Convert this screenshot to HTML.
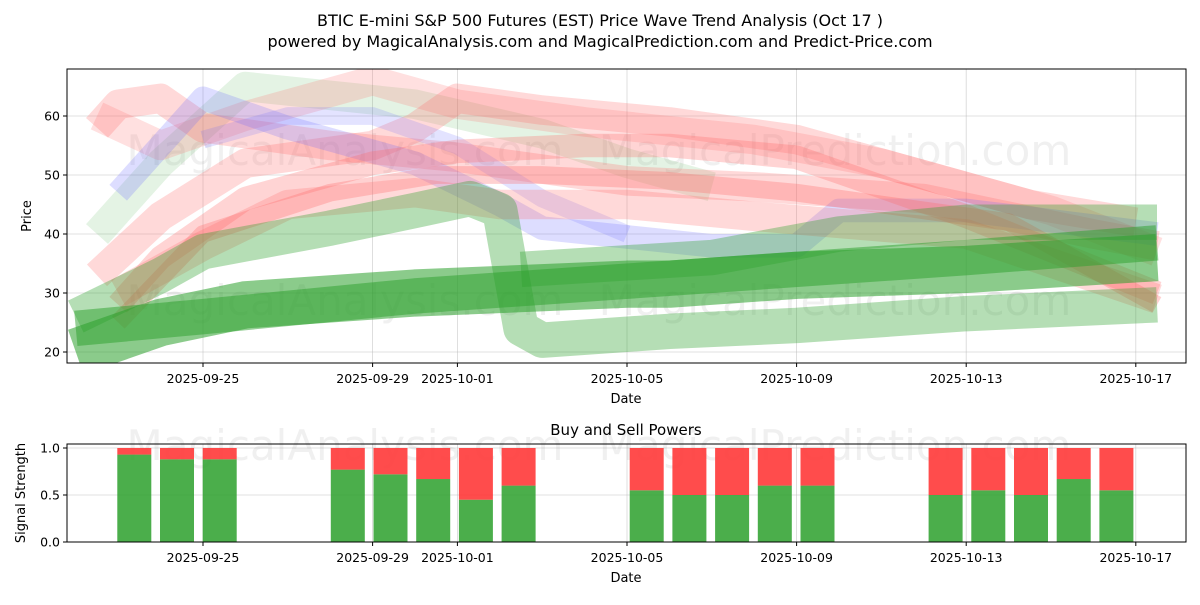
<!DOCTYPE html>
<html><head><meta charset="utf-8">
<style>
body{margin:0;background:#fff;font-family:"Liberation Sans","DejaVu Sans",sans-serif;}
svg text{font-family:"DejaVu Sans","Liberation Sans",sans-serif;}
</style></head>
<body>
<svg id="chart" width="1200" height="600" viewBox="0 0 1200 600" xmlns="http://www.w3.org/2000/svg">
<rect width="1200" height="600" fill="#fff"/>
<text x="600" y="26" text-anchor="middle" font-size="16">BTIC E-mini S&amp;P 500 Futures (EST) Price Wave Trend Analysis (Oct 17 )</text>
<text x="600" y="47" text-anchor="middle" font-size="16">powered by MagicalAnalysis.com and MagicalPrediction.com and Predict-Price.com</text>
<defs>
<clipPath id="topclip"><rect x="67" y="69" width="1119" height="294"/></clipPath>
</defs>
<g id="topGrid"></g>
<g id="bands" clip-path="url(#topclip)"></g>
<g id="topAxis"></g>
<g id="botGrid"></g>
<g id="bars"></g>
<g id="botAxis"></g>
</svg>
<script>
// ---- data ----
const tickDates = ["2025-09-25","2025-09-29","2025-10-01","2025-10-05","2025-10-09","2025-10-13","2025-10-17"];
const tickDays = [0,4,6,10,14,18,22];
const priceTicks = [20,30,40,50,60];
const strengthTicks = [0.0,0.5,1.0];
const g1Days=[-3,-1,1,5,10,11,14,18,22.5], g1Price=[20,25,28,30,31.5,31.5,33,34,36];
const g2Days=[-3,0,5,10,14,18,22.5], g2Price=[24,26,29.5,32,34,36,38.5];
const g3Days=[-3,-1,0,3,5,6.3,7,7.5,8,11,14,18,22.5], g3Price=[26,33,37,41,44,46,44,24,22,23.5,24.5,26.5,28];
const g4Days=[7.5,12,15,18,22.5], g4Price=[34,36,40,42,42];
const g5Days=[-2.5,-1,1,5,8,10,12], g5Price=[40,52,65,62,57,52,48];
const r1Days=[-2.5,-2,-1,0,3,6,10,13,17,21,22.5], r1Price=[58,62,63,58,55,53,49,48,46,40,38];
const r2Days=[-2.5,-1,1,4,5,6,8,11,14,17,19.5,22], r2Price=[33,43,52,55,58,63,61,59,56,50,45,42];
const r3Days=[-2,-1,1,4,6,9,11,14,18,22.5], r3Price=[28,36,46,52,54,55,55,53,43,30];
const r4Days=[-2,0,3,5.5,8,11,14,16,19,22.5], r4Price=[25,40,47,50,50,49,47,45,42,28];
const r5Days=[-2.5,-1,1,4,6,9,13,16,20,22.5], r5Price=[60,55,60,66,62,59,56,52,44,37];
const r6Days=[-2,0,2,5,7,10,13,18,22.5], r6Price=[30,38,45,47,45,45,43,40,29];
const b1Days=[-2,0,2,5,7,8,12,14,15,18,22.5], b1Price=[47,63,58,52,45,41,38,38,44,44,40];
const b2Days=[0,2,4,6,8,10], b2Price=[56,60,60,55,46,40];
const barDays=[-1,0,1,4,5,6,7,8,11,12,13,14,15,18,19,20,21,22];
const buyPower=[0.93,0.88,0.88,0.77,0.72,0.67,0.45,0.6,0.55,0.5,0.5,0.6,0.6,0.5,0.55,0.5,0.67,0.55];

// ---- scales ----
const X0=203, DAY=42.4;
const xs=d=>X0+d*DAY;
const xBar=d=>177+d*42.7;
const yTop=p=>352-(p-20)*5.9;
const yBot=v=>542-v*94;
const NS="http://www.w3.org/2000/svg";
function mk(tag,attrs,parent){const e=document.createElementNS(NS,tag);for(const k in attrs)e.setAttribute(k,attrs[k]);parent.appendChild(e);return e;}

const topGrid=document.getElementById('topGrid');
const botGrid=document.getElementById('botGrid');
const topAxis=document.getElementById('topAxis');
const botAxis=document.getElementById('botAxis');
tickDays.forEach(d=>{
  let l=mk('line',{x1:xs(d),x2:xs(d),y1:69,y2:363,stroke:'#b0b0b0','stroke-width':0.8,'stroke-opacity':0.5},topGrid);
  
  
  let l2=mk('line',{x1:xs(d),x2:xs(d),y1:444,y2:542,stroke:'#b0b0b0','stroke-width':0.8,'stroke-opacity':0.5},botGrid);
  
  
});
priceTicks.forEach(p=>{
  let l=mk('line',{x1:67,x2:1186,y1:yTop(p),y2:yTop(p),stroke:'#b0b0b0','stroke-width':0.8,'stroke-opacity':0.5},topGrid);
  
  
});
strengthTicks.forEach(v=>{
  let l=mk('line',{x1:67,x2:1186,y1:yBot(v),y2:yBot(v),stroke:'#b0b0b0','stroke-width':0.8,'stroke-opacity':0.5},botGrid);
  
  
});
[[345,150,'MagicalAnalysis.com'],[835,150,'MagicalPrediction.com'],[345,300,'MagicalAnalysis.com'],[835,300,'MagicalPrediction.com']].forEach(w=>{
  let t=mk('text',{x:w[0],y:w[1]+15,'text-anchor':'middle','font-size':42,fill:'#888','fill-opacity':0.13},topGrid);
  t.textContent=w[2];
  
  
});
[[345,445,'MagicalAnalysis.com'],[835,445,'MagicalPrediction.com']].forEach(w=>{
  let t=mk('text',{x:w[0],y:w[1]+15,'text-anchor':'middle','font-size':42,fill:'#888','fill-opacity':0.13},botGrid);
  t.textContent=w[2];
  
  
});

const bandsG=document.getElementById('bands');
const bands=[
 [g5Days,g5Price,5,'#2ca02c',0.13,'green-wave-5'],
 [r5Days,r5Price,5,'#ff6666',0.2,'red-wave-5'],
 [r1Days,r1Price,5,'#ff6666',0.25,'red-wave-1'],
 [r2Days,r2Price,5,'#ff6666',0.25,'red-wave-2'],
 [b1Days,b1Price,4,'#6666ff',0.22,'blue-wave-1'],
 [b2Days,b2Price,3,'#6666ff',0.18,'blue-wave-2'],
 [r3Days,r3Price,4,'#ff6666',0.28,'red-wave-3'],
 [r4Days,r4Price,3,'#ff6666',0.3,'red-wave-4'],
 [r6Days,r6Price,5,'#ff6666',0.25,'red-wave-6'],
 [g4Days,g4Price,6,'#2ca02c',0.35,'green-wave-4'],
 [g3Days,g3Price,6,'#2ca02c',0.35,'green-wave-3'],
 [g2Days,g2Price,6,'#2ca02c',0.5,'green-wave-2'],
 [g1Days,g1Price,8,'#2ca02c',0.55,'green-wave-1']
];
bands.forEach(b=>{
  const pts=b[0].map((d,i)=>xs(d)+','+yTop(b[1][i])).join(' ');
  const pl=mk('polyline',{points:pts,fill:'none',stroke:b[3],'stroke-opacity':b[4],'stroke-width':b[2]*5.9,'stroke-linejoin':'round','stroke-linecap':'butt'},bandsG);
  
  
});

let fr=mk('rect',{x:67,y:69,width:1119,height:294,fill:'none',stroke:'#000','stroke-width':1},topAxis);


tickDays.forEach((d,i)=>{
  mk('line',{x1:xs(d),x2:xs(d),y1:363,y2:367,stroke:'#000'},topAxis);
  let t=mk('text',{x:xs(d),y:383,'text-anchor':'middle','font-size':12.5},topAxis);
  t.textContent=tickDates[i];
  
  
  mk('line',{x1:xs(d),x2:xs(d),y1:542,y2:546,stroke:'#000'},botAxis);
  let t2=mk('text',{x:xs(d),y:562,'text-anchor':'middle','font-size':12.5},botAxis);
  t2.textContent=tickDates[i];
  
  
});
priceTicks.forEach(p=>{
  mk('line',{x1:63,x2:67,y1:yTop(p),y2:yTop(p),stroke:'#000'},topAxis);
  let t=mk('text',{x:60,y:yTop(p)+4.5,'text-anchor':'end','font-size':12.5},topAxis);
  t.textContent=p;
  
  
});
let xl=mk('text',{x:626,y:403,'text-anchor':'middle','font-size':13},topAxis);xl.textContent='Date';


let yl=mk('text',{x:31,y:216,'text-anchor':'middle','font-size':13,transform:'rotate(-90 31 216)'},topAxis);yl.textContent='Price';



const barsG=document.getElementById('bars');
barDays.forEach((d,i)=>{
  const w=34, x=xBar(d)-w/2, b=buyPower[i];
  let g=mk('rect',{x:x,y:yBot(b),width:w,height:yBot(0)-yBot(b),fill:'#2ca02c','fill-opacity':0.85},barsG);
  
  
  let r=mk('rect',{x:x,y:yBot(1),width:w,height:yBot(b)-yBot(1),fill:'#ff3333','fill-opacity':0.88},barsG);
  
  
});
let fr2=mk('rect',{x:67,y:444,width:1119,height:98,fill:'none',stroke:'#000','stroke-width':1},botAxis);


strengthTicks.forEach(v=>{
  mk('line',{x1:63,x2:67,y1:yBot(v),y2:yBot(v),stroke:'#000'},botAxis);
  let t=mk('text',{x:60,y:yBot(v)+4.5,'text-anchor':'end','font-size':12.5},botAxis);
  t.textContent=v.toFixed(1);
  
  
});
let bt=mk('text',{x:626,y:435,'text-anchor':'middle','font-size':15},botAxis);bt.textContent='Buy and Sell Powers';


let bx=mk('text',{x:626,y:582,'text-anchor':'middle','font-size':13},botAxis);bx.textContent='Date';


let by=mk('text',{x:25,y:493,'text-anchor':'middle','font-size':13,transform:'rotate(-90 25 493)'},botAxis);by.textContent='Signal Strength';


</script>
</body></html>
